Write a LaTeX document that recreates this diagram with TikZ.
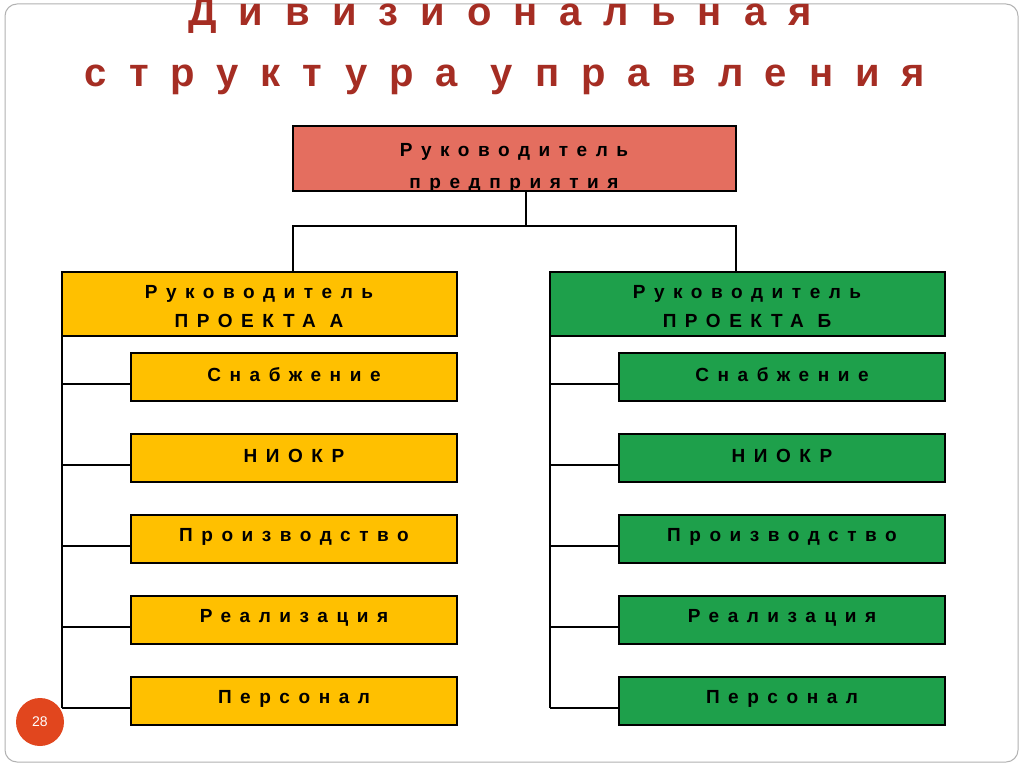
\documentclass[tikz,border=0pt]{standalone}
\usepackage{fontspec}
\setmainfont{Liberation Sans}
\definecolor{ttlc}{RGB}{165,45,35}
\definecolor{topc}{RGB}{228,110,95}
\definecolor{yelc}{RGB}{255,192,0}
\definecolor{grnc}{RGB}{30,160,75}
\definecolor{circc}{RGB}{225,70,30}
\begin{document}
\begin{tikzpicture}[x=1pt,y=-1pt,
 ln/.style={line width=1.4pt},
 tx/.style={font=\fontsize{19}{22}\bfseries\selectfont\addfontfeatures{LetterSpace=45},align=center,inner sep=0pt},
 ttl/.style={font=\fontsize{40}{44}\bfseries\selectfont\addfontfeatures{LetterSpace=55},text=ttlc,inner sep=0pt}]
\useasboundingbox (0,0) rectangle (1024,767);
\fill[white] (0,0) rectangle (1024,767);
\draw[gray!60,line width=1pt,rounded corners=12pt] (5,4) rectangle (1018,762);
\node[ttl] (t1) at (500,16) {Дивизиональная};
\node[ttl] (t2) at (505,80) {структура управления};
\filldraw[fill=topc,line width=1.6pt] (293,126) rectangle (736,191);
\node[tx] (top1) at (514,152) {Руководитель};
\node[tx] (top2) at (514,185) {предприятия};
\coordinate (tb) at (526,191);
\coordinate (tm) at (526,226);
\draw[ln] (tb) -- (tm);
\draw[ln] (293,272) -- (293,226) -- (736,226) -- (736,272);
\foreach \X/\C/\L in {62/yelc/А, 550/grnc/Б}{
 \filldraw[fill=\C,line width=1.6pt] (\X,272) rectangle ++(395,64);
 \node[tx] at (\X+197,294) {Руководитель};
 \node[tx] at (\X+197,321) {ПРОЕКТА \L};
 \draw[ln] (\X,336) -- (\X,708);
 \foreach \y/\t in {353/Снабжение,434/НИОКР,515/Производство,596/Реализация,677/Персонал}{
  \filldraw[fill=\C,line width=1.6pt] (\X+69,\y) rectangle ++(326,48);
  \node[tx] at (\X+232,\y+22) {\t};
  \draw[ln] (\X,\y+31) -- (\X+69,\y+31);
 }
}
\fill[circc] (40,722) circle (24);
\node[text=white,font=\fontsize{14}{16}\selectfont] (pg) at (40,722) {28};
\end{tikzpicture}
\end{document}
